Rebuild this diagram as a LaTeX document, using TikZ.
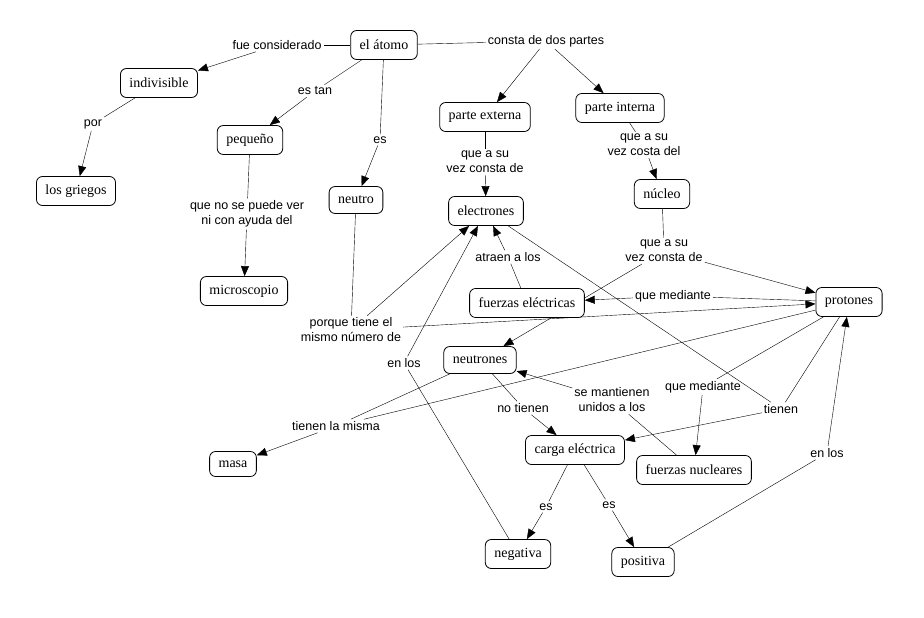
\documentclass[tikz,border=0pt]{standalone}
\usepackage{fontspec}
\setmainfont{Liberation Serif}
\newfontfamily\linkfont{Liberation Sans}
\usetikzlibrary{arrows.meta,backgrounds}
\begin{document}
\begin{tikzpicture}[x=1pt,y=-1pt,
  concept/.style={draw,fill=white,rounded corners=6pt,line width=0.8pt,inner xsep=9pt,minimum height=29pt,font=\fontsize{14}{16}\selectfont},
  link/.style={inner sep=2pt,align=center,font=\linkfont\fontsize{12.5}{15}\selectfont},
  linkarrow/.style={-{Triangle[length=10pt,width=8pt]}}]
\useasboundingbox (0,0) rectangle (924,618);

\node[concept] (atomo) at (384,45) {el átomo};
\node[concept] (indivisible) at (159,83) {indivisible};
\node[concept] (griegos) at (76,191) {los griegos};
\node[concept] (pequeno) at (250,140) {pequeño};
\node[concept] (microscopio) at (244,291) {microscopio};
\node[concept,minimum height=27pt] (neutro) at (356,200) {neutro};
\node[concept] (externa) at (485,117) {parte externa};
\node[concept] (interna) at (620,108) {parte interna};
\node[concept] (electrones) at (486,211) {electrones};
\node[concept] (nucleo) at (662,194) {núcleo};
\node[concept] (felectricas) at (527,303) {fuerzas eléctricas};
\node[concept] (protones) at (849,302) {protones};
\node[concept,minimum height=27pt] (neutrones) at (480,360) {neutrones};
\node[concept,minimum height=25pt] (masa) at (233,464) {masa};
\node[concept] (carga) at (575,450) {carga eléctrica};
\node[concept] (nucleares) at (694,470) {fuerzas nucleares};
\node[concept] (negativa) at (518,554) {negativa};
\node[concept] (positiva) at (643,562) {positiva};

\node[link] (fue) at (277,45) {fue considerado};
\node[link] (dospartes) at (546,41) {consta de dos partes};
\node[link] (estan) at (315,91) {es tan};
\node[link] (es) at (380,140) {es};
\node[link] (por) at (93,124) {por};
\node[link] (nosever) at (247,214) {que no se puede ver\\ni con ayuda del};
\node[link] (vezconsta) at (485,162) {que a su\\vez consta de};
\node[link] (vezcosta) at (644,145) {que a su\\vez costa del};
\node[link] (vezconstab) at (664,251) {que a su\\vez consta de};
\node[link] (atraen) at (508,257) {atraen a los};
\node[link] (mediante) at (673,296) {que mediante};
\node[link] (porque) at (351,330) {porque tiene el\\mismo número de};
\node[link] (enlos) at (404,363) {en los};
\node[link] (misma) at (336,426) {tienen la misma};
\node[link] (notienen) at (523,408) {no tienen};
\node[link] (mantienen) at (612,400) {se mantienen\\unidos a los};
\node[link] (medianteb) at (703,387) {que mediante};
\node[link] (tienen) at (781,409) {tienen};
\node[link] (enlosb) at (827,453) {en los};
\node[link] (esneg) at (546,507) {es};
\node[link] (espos) at (609,505) {es};

\begin{scope}[on background layer,line width=0.8pt]
\foreach \a/\b in {atomo/fue,atomo/dospartes,atomo/estan,atomo/es,indivisible/por,pequeno/nosever,
  externa/vezconsta,interna/vezcosta,nucleo/vezconstab,felectricas/atraen,protones/mediante,
  neutro/porque,negativa/enlos,neutrones/misma,protones/misma,neutrones/notienen,nucleares/mantienen,
  protones/medianteb,electrones/tienen,protones/tienen,positiva/enlosb,carga/esneg,carga/espos}
  \draw (\a) -- (\b);
\foreach \a/\b in {fue/indivisible,dospartes/externa,dospartes/interna,estan/pequeno,es/neutro,
  por/griegos,nosever/microscopio,vezconsta/electrones,vezcosta/nucleo,vezconstab/protones,
  vezconstab/neutrones,mediante/felectricas,atraen/electrones,porque/electrones,porque/protones,
  enlos/electrones,misma/masa,notienen/carga,mantienen/neutrones,medianteb/nucleares,tienen/carga,
  enlosb/protones,esneg/negativa,espos/positiva}
  \draw[linkarrow] (\a) -- (\b);
\end{scope}
\end{tikzpicture}
\end{document}
